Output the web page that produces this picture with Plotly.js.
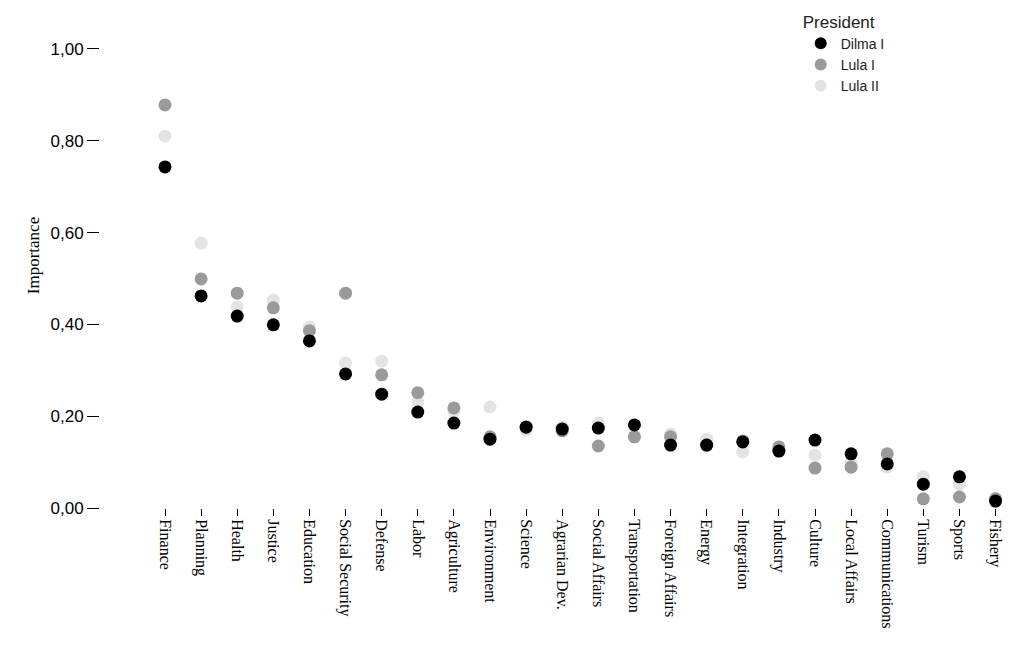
<!DOCTYPE html>
<html>
<head>
<meta charset="utf-8">
<script src="https://cdn.plot.ly/plotly-3.0.1.min.js"></script>
<style>body{margin:0;background:#fff}</style>
</head>
<body>
<div id="chart" style="width:1024px;height:645px"></div>
<script>
const categories = ["Finance", "Planning", "Health", "Justice", "Education", "Social Security",
    "Defense", "Labor", "Agriculture", "Environment", "Science", "Agrarian Dev.",
    "Social Affairs", "Transportation", "Foreign Affairs", "Energy", "Integration",
    "Industry", "Culture", "Local Affairs", "Communications", "Turism", "Sports", "Fishery"];

const dilma1 = [0.743, 0.462, 0.418, 0.399, 0.364, 0.292, 0.248, 0.209, 0.185, 0.150, 0.176, 0.172,
    0.174, 0.181, 0.137, 0.137, 0.144, 0.124, 0.148, 0.118, 0.096, 0.052, 0.068, 0.015];
const lula1 = [0.878, 0.499, 0.468, 0.436, 0.386, 0.468, 0.290, 0.251, 0.218, 0.155, 0.177, 0.168,
    0.135, 0.155, 0.155, 0.137, 0.146, 0.133, 0.087, 0.089, 0.118, 0.020, 0.024, 0.020];
const lula2 = [0.810, 0.577, 0.438, 0.453, 0.394, 0.316, 0.320, 0.231, 0.209, 0.220, 0.170, 0.176,
    0.185, 0.155, 0.161, 0.150, 0.122, 0.124, 0.115, 0.098, 0.089, 0.068, 0.052, 0.020];

const idx = categories.map((c, i) => i);

function series(name, vals, color) {
    return {
        name: name,
        x: idx,
        y: vals,
        mode: "markers",
        type: "scatter",
        marker: { color: color, size: 13, symbol: "circle" },
    };
}

// Lula II drawn first so Dilma sits on top
const traces = [
    series("Lula II", lula2, "#e3e3e3"),
    series("Lula I", lula1, "#9a9a9a"),
    series("Dilma I", dilma1, "#000000"),
];

Plotly.newPlot("chart", traces, {
    width: 1024,
    height: 645,
    margin: { l: 100, r: 14, t: 3, b: 137 },
    paper_bgcolor: "#fff",
    plot_bgcolor: "#fff",
    separators: ",.",
    showlegend: true,
    legend: {
        x: 0.77, y: 0.995, xanchor: "left", yanchor: "top",
        traceorder: "reversed",
        title: { text: "President", font: { family: "Liberation Sans, Arial", size: 17, color: "#222" } },
        font: { family: "Liberation Sans, Arial", size: 14, color: "#222" },
        itemsizing: "constant",
        tracegroupgap: 0,
    },
    xaxis: {
        range: [-1.8, 23.4],
        tickmode: "array",
        tickvals: idx,
        ticktext: categories,
        tickangle: 90,
        ticks: "outside",
        ticklen: 7,
        tickcolor: "#000",
        showgrid: false,
        zeroline: false,
        showline: false,
        tickfont: { family: "Liberation Serif, Times New Roman", size: 16, color: "#000" },
    },
    yaxis: {
        range: [0, 1.1],
        tickvals: [0, 0.2, 0.4, 0.6, 0.8, 1.0],
        tickformat: ".2f",
        ticks: "outside",
        ticklen: 12,
        tickcolor: "#000",
        showgrid: false,
        zeroline: false,
        showline: false,
        tickfont: { family: "Liberation Sans, Arial", size: 17, color: "#000" },
        title: { text: "Importance", font: { family: "Liberation Serif, Times New Roman", size: 17, color: "#000" }, standoff: 6 },
    },
}, { displayModeBar: false });
</script>
</body>
</html>
